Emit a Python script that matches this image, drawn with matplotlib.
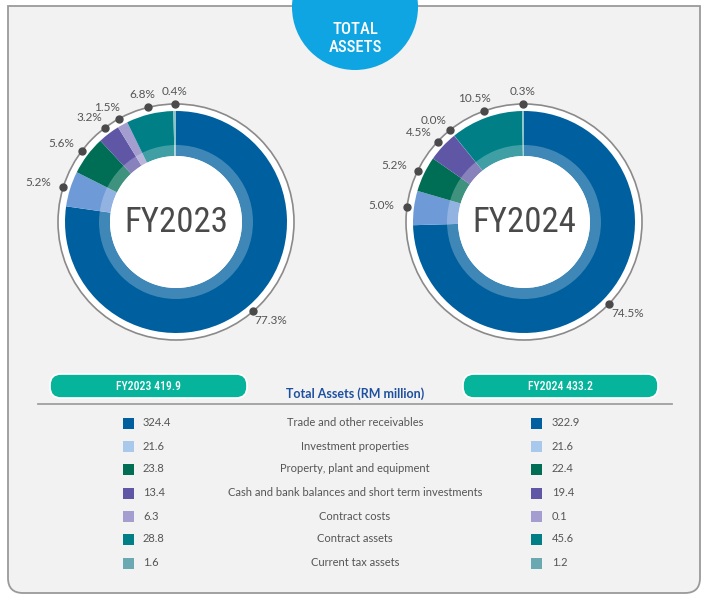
import numpy as np
import matplotlib.pyplot as plt
from matplotlib.patches import Circle, Wedge, FancyBboxPatch, PathPatch, Rectangle
from matplotlib.path import Path

categories = ["Trade and other receivables", "Investment properties",
              "Property, plant and equipment",
              "Cash and bank balances and short term investments",
              "Contract costs", "Contract assets", "Current tax assets"]
fy2023 = [324.4, 21.6, 23.8, 13.4, 6.3, 28.8, 1.6]
fy2024 = [322.9, 21.6, 22.4, 19.4, 0.1, 45.6, 1.2]
pct2023 = ["77.3%", "5.2%", "5.6%", "3.2%", "1.5%", "6.8%", "0.4%"]
pct2024 = ["74.5%", "5.0%", "5.2%", "4.5%", "0.0%", "10.5%", "0.3%"]
total2023 = "FY2023 419.9"
total2024 = "FY2024 433.2"

slice_colors = ["#005f9e", "#6e9ad8", "#006e54", "#5f57a6", "#a39dd0", "#007f87", "#8cc3ca"]
legend_colors = ["#005f9e", "#a8c8ec", "#006e54", "#5f57a6", "#a39dd0", "#007f87", "#6aa8b2"]

W, H = 710, 605
COND = ["Roboto Condensed", "DejaVu Sans"]
BODY = ["Lato", "DejaVu Sans"]
TXT = "#555555"

def yy(v):
    return H - v

fig = plt.figure(figsize=(W / 100, H / 100), dpi=100)
ax = fig.add_axes([0, 0, 1, 1])

# outer frame: square top corners, rounded bottom corners
L, R, T, B, r = 8, 700, yy(6), yy(593), 15
verts = [(L, T), (L, B + r), (L, B), (L + r, B), (R - r, B), (R, B), (R, B + r), (R, T), (L, T)]
codes = [Path.MOVETO, Path.LINETO, Path.CURVE3, Path.CURVE3, Path.LINETO,
         Path.CURVE3, Path.CURVE3, Path.LINETO, Path.CLOSEPOLY]
ax.add_patch(PathPatch(Path(verts, codes), fc="#f2f2f2", ec="#9a9a9a", lw=1.3, zorder=0))

# header badge
ax.add_patch(Circle((355, yy(7)), 63, fc="#0ea5e2", ec="none", zorder=1))
ax.text(355, yy(29), "TOTAL", family=COND, fontweight="medium",
        fontsize=12, color="white", ha="center", va="center")
ax.text(355, yy(47), "ASSETS", family=COND, fontweight="medium",
        fontsize=12, color="white", ha="center", va="center")


def donut(cx, cy, values, labels, year):
    cy = yy(cy)
    ax.add_patch(Circle((cx, cy), 118, fc="white", ec="#8a8a8a", lw=1.2, zorder=1))
    ax.pie(values, colors=slice_colors, radius=111, center=(cx, cy), startangle=90,
           counterclock=False, wedgeprops=dict(width=45, linewidth=0), frame=True)
    ax.add_patch(Wedge((cx, cy), 77, 0, 360, width=11, fc="white", alpha=0.25, ec="none", zorder=3))
    ax.add_patch(Circle((cx, cy), 66, fc="white", ec="none", zorder=3))
    ax.text(cx, cy, year, family=COND, fontsize=25, color="#4a4a4a",
            ha="center", va="center", zorder=4)
    vals = np.array(values)
    mids = (np.cumsum(vals) - vals / 2) / vals.sum() * 2 * np.pi
    for th, lab in zip(mids, labels):
        dx, dy = np.sin(th), np.cos(th)
        ax.plot(cx + 118 * dx, cy + 118 * dy, "o", ms=5, color="#4a4a4a", zorder=4)
        ax.text(cx + 131 * dx + 13 * dx, cy + 131 * dy, lab, family=BODY, fontsize=8.5,
                color=TXT, ha="center", va="center")


donut(176, 222, fy2023, pct2023, "FY2023")
donut(524, 222, fy2024, pct2024, "FY2024")

# header row of the table
for x0, x1, lab in [(50, 247, total2023), (463, 658, total2024)]:
    ax.add_patch(FancyBboxPatch((x0, yy(398)), x1 - x0, 24,
                                boxstyle="round,pad=0,rounding_size=11",
                                fc="#06b49b", ec="white", lw=1.2, zorder=2))
    ax.text((x0 + x1) / 2, yy(386), lab, family=COND, fontweight="medium",
            fontsize=8.5, color="white", ha="center", va="center", zorder=3)
ax.text(355, yy(394), "Total Assets (RM million)", family=BODY, fontsize=9,
        fontweight="bold", color="#1d50a0", ha="center", va="center")
ax.plot([38, 672], [yy(404), yy(404)], color="#a0a0a0", lw=1.3)

# table rows
row_y = [423, 446, 469, 493, 516, 539, 563]
for i, cat in enumerate(categories):
    y = yy(row_y[i])
    ax.add_patch(Rectangle((123, y - 5.5), 11, 11, fc=legend_colors[i], ec="none"))
    ax.add_patch(Rectangle((531, y - 5.5), 11, 11, fc=legend_colors[i], ec="none"))
    ax.text(143, y, f"{fy2023[i]:.1f}", family=BODY, fontsize=8, color=TXT, va="center")
    ax.text(552, y, f"{fy2024[i]:.1f}", family=BODY, fontsize=8, color=TXT, va="center")
    ax.text(355, y, cat, family=BODY, fontsize=8, color=TXT, ha="center", va="center")

ax.set_xlim(0, W)
ax.set_ylim(0, H)
ax.set_aspect("auto")
ax.axis("off")
fig.savefig("out.png", dpi=100, facecolor="white")
